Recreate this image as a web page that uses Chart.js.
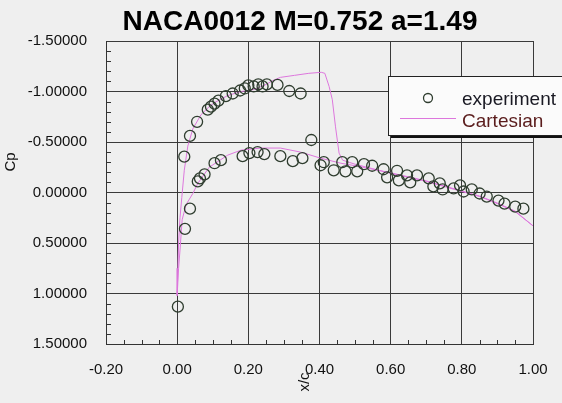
<!DOCTYPE html>
<html>
<head>
<meta charset="utf-8">
<title>NACA0012 Cp</title>
<script src="https://cdn.jsdelivr.net/npm/chart.js@4.4.1/dist/chart.umd.min.js"></script>
<style>
  html, body { margin: 0; padding: 0; background: #efefef; }
  #wrap { width: 562px; height: 403px; }
</style>
</head>
<body>
<div id="wrap"><canvas id="chart" width="562" height="403"></canvas></div>
<script>
// tick values
const xTicks = [-0.2, 0, 0.2, 0.4, 0.6, 0.8, 1.0];
const yTicks = [-1.5, -1.0, -0.5, 0, 0.5, 1.0, 1.5];

// experiment
const expX = [0.002, 0.022, 0.036,
  0.020, 0.036, 0.056, 0.086, 0.095, 0.105, 0.116, 0.137, 0.156, 0.177, 0.190, 0.200,
  0.215, 0.228, 0.240, 0.252, 0.282, 0.315, 0.347, 0.377,
  0.058, 0.064, 0.077, 0.105, 0.123, 0.184, 0.203, 0.226, 0.245, 0.290, 0.325, 0.352,
  0.403, 0.412, 0.440, 0.464, 0.473, 0.492, 0.506, 0.525, 0.548, 0.580, 0.590, 0.618,
  0.623, 0.646, 0.655, 0.674, 0.707, 0.720, 0.738, 0.746, 0.777, 0.795, 0.805, 0.828,
  0.850, 0.870, 0.903, 0.920, 0.950, 0.973];
const expCp = [1.13, 0.36, 0.16,
  -0.355, -0.56, -0.70, -0.82, -0.85, -0.88, -0.91, -0.955, -0.98, -1.01, -1.03, -1.06,
  -1.05, -1.07, -1.05, -1.07, -1.065, -1.005, -0.98, -0.52,
  -0.11, -0.14, -0.18, -0.29, -0.32, -0.36, -0.39, -0.40, -0.38, -0.36, -0.31, -0.34,
  -0.27, -0.30, -0.22, -0.30, -0.21, -0.30, -0.21, -0.28, -0.265, -0.23, -0.15, -0.215,
  -0.12, -0.17, -0.10, -0.17, -0.14, -0.06, -0.09, -0.03, -0.04, -0.07, -0.01, -0.03,
  0.01, 0.04, 0.08, 0.11, 0.14, 0.16];

// Cartesian solution: upper surface TE -> LE, then lower surface LE -> TE
const cartX = [1.0, 0.95, 0.9, 0.85, 0.8, 0.75, 0.7, 0.65, 0.6, 0.55, 0.5, 0.465,
  0.455, 0.445, 0.436, 0.427, 0.415, 0.405, 0.37, 0.33, 0.29, 0.27, 0.25, 0.217,
  0.18, 0.142, 0.105, 0.09, 0.067, 0.044, 0.03, 0.02, 0.013, 0.008, 0.004, 0.002, 0.0,
  0.004, 0.008, 0.014, 0.025, 0.044, 0.058, 0.09, 0.142, 0.18, 0.235, 0.29, 0.347,
  0.403, 0.46, 0.5, 0.55, 0.6, 0.65, 0.7, 0.75, 0.8, 0.85, 0.9, 0.95, 1.0];
const cartCp = [0.33, 0.19, 0.11, 0.04, -0.01, -0.06, -0.11, -0.15, -0.19, -0.235, -0.28, -0.32,
  -0.39, -0.65, -0.92, -1.05, -1.18, -1.19, -1.18, -1.16, -1.14, -1.11, -1.07, -1.02,
  -1.00, -0.96, -0.89, -0.85, -0.77, -0.63, -0.46, -0.22, 0.05, 0.25, 0.5, 0.75, 1.02,
  0.75, 0.57, 0.27, 0.12, 0.01, -0.09, -0.25, -0.37, -0.42, -0.44, -0.44, -0.40,
  -0.34, -0.29, -0.265, -0.23, -0.195, -0.155, -0.115, -0.065, -0.015, 0.035, 0.105, 0.185, 0.33];

const FONT = '"Liberation Sans", Arial, Helvetica, sans-serif';
Chart.defaults.font.family = FONT;

function fmt(v, d) {
  if (Math.abs(v) < 1e-9) v = 0;
  return v.toFixed(d);
}

// minor ticks, titles and the boxed legend
const decor = {
  id: 'decor',
  beforeDatasetsDraw(chart) {
    const ctx = chart.ctx;
    const a = chart.chartArea;
    const xs = chart.scales.x, ys = chart.scales.y;
    ctx.save();
    ctx.strokeStyle = '#333';
    ctx.lineWidth = 1;
    ctx.beginPath();
    for (let i = -15; i <= 15; i++) {
      if (i % 5 === 0) continue;
      const py = Math.round(ys.getPixelForValue(i / 10)) + 0.5;
      ctx.moveTo(a.left, py);
      ctx.lineTo(a.left + 5, py);
    }
    for (let i = -4; i <= 20; i++) {
      if (i % 4 === 0) continue;
      const px = Math.round(xs.getPixelForValue(i * 0.05)) + 0.5;
      ctx.moveTo(px, a.bottom);
      ctx.lineTo(px, a.bottom - 4);
    }
    ctx.stroke();
    ctx.restore();
  },
  afterDraw(chart) {
    const ctx = chart.ctx;
    const ds = chart.data.datasets;
    ctx.save();
    // title
    ctx.fillStyle = '#000';
    ctx.font = 'bold 28px ' + FONT;
    ctx.textAlign = 'center';
    ctx.textBaseline = 'alphabetic';
    ctx.fillText('NACA0012 M=0.752 a=1.49', 300, 30);

    // axis titles (rotated)
    ctx.font = '15px ' + FONT;
    ctx.fillStyle = '#111';
    ctx.textBaseline = 'middle';
    ctx.translate(11, 162);
    ctx.rotate(-Math.PI / 2);
    ctx.fillText('Cp', 0, 0);
    ctx.setTransform(1, 0, 0, 1, 0, 0);
    ctx.translate(305, 382);
    ctx.rotate(-Math.PI / 2);
    ctx.fillText('x/c', 0, 0);
    ctx.setTransform(1, 0, 0, 1, 0, 0);

    // legend box with shadow
    const lx = 388, ly = 76, lw = 190, lh = 59;
    ctx.fillStyle = '#111';
    ctx.fillRect(lx + 3, ly + 3, lw, lh);
    ctx.fillStyle = '#fbfbfb';
    ctx.fillRect(lx, ly, lw, lh);
    ctx.strokeStyle = '#222';
    ctx.lineWidth = 1;
    ctx.strokeRect(lx + 0.5, ly + 0.5, lw, lh);

    ctx.strokeStyle = ds[0].borderColor;
    ctx.lineWidth = ds[0].pointBorderWidth;
    ctx.beginPath();
    ctx.arc(428, 98, 4.5, 0, Math.PI * 2);
    ctx.stroke();
    ctx.strokeStyle = ds[1].borderColor;
    ctx.lineWidth = 1;
    ctx.beginPath();
    ctx.moveTo(400, 118.5);
    ctx.lineTo(456, 118.5);
    ctx.stroke();

    ctx.font = '19px ' + FONT;
    ctx.textAlign = 'left';
    ctx.textBaseline = 'alphabetic';
    ctx.fillStyle = '#1a1a24';
    ctx.fillText(ds[0].label, 462, 105);
    ctx.fillStyle = '#5a1c1c';
    ctx.fillText(ds[1].label, 462, 127);
    ctx.restore();
  }
};

const chart = document.querySelector('#chart').getContext('2d');

new Chart(chart, {
  type: 'scatter',
  data: {
    datasets: [
      {
        label: 'experiment',
        data: expX.map((x, i) => ({ x: x, y: expCp[i] })),
        showLine: false,
        pointStyle: 'circle',
        pointRadius: 5.5,
        pointBorderWidth: 1.3,
        borderColor: '#2f3d2f',
        backgroundColor: 'rgba(0,0,0,0)'
      },
      {
        label: 'Cartesian',
        data: cartX.map((x, i) => ({ x: x, y: cartCp[i] })),
        showLine: true,
        pointRadius: 0,
        borderColor: '#dd77dd',
        borderWidth: 1,
        tension: 0
      }
    ]
  },
  options: {
    responsive: false,
    animation: false,
    layout: { padding: { top: 41, right: 29, left: 0, bottom: 0 } },
    plugins: {
      legend: { display: false },
      title: { display: false },
      tooltip: { enabled: false }
    },
    scales: {
      x: {
        type: 'linear',
        min: -0.2,
        max: 1.0,
        afterBuildTicks: s => { s.ticks = xTicks.map(v => ({ value: v })); },
        afterFit: s => { s.height = 59; s.paddingLeft = 0; s.paddingRight = 0; },
        grid: { color: '#3a3a3a', lineWidth: 1, drawTicks: false },
        border: { display: true, color: '#333', width: 1 },
        ticks: {
          color: '#111',
          padding: 17,
          font: { size: 15 },
          maxRotation: 0,
          callback: v => fmt(v, 2)
        }
      },
      y: {
        type: 'linear',
        reverse: true,
        min: -1.5,
        max: 1.5,
        afterBuildTicks: s => { s.ticks = yTicks.map(v => ({ value: v })); },
        afterFit: s => { s.width = 106; },
        grid: { color: '#3a3a3a', lineWidth: 1, drawTicks: false },
        border: { display: true, color: '#333', width: 1 },
        ticks: {
          color: '#111',
          padding: 19,
          font: { size: 15 },
          callback: v => fmt(v, 5)
        }
      }
    }
  },
  plugins: [decor]
});
</script>
</body>
</html>
